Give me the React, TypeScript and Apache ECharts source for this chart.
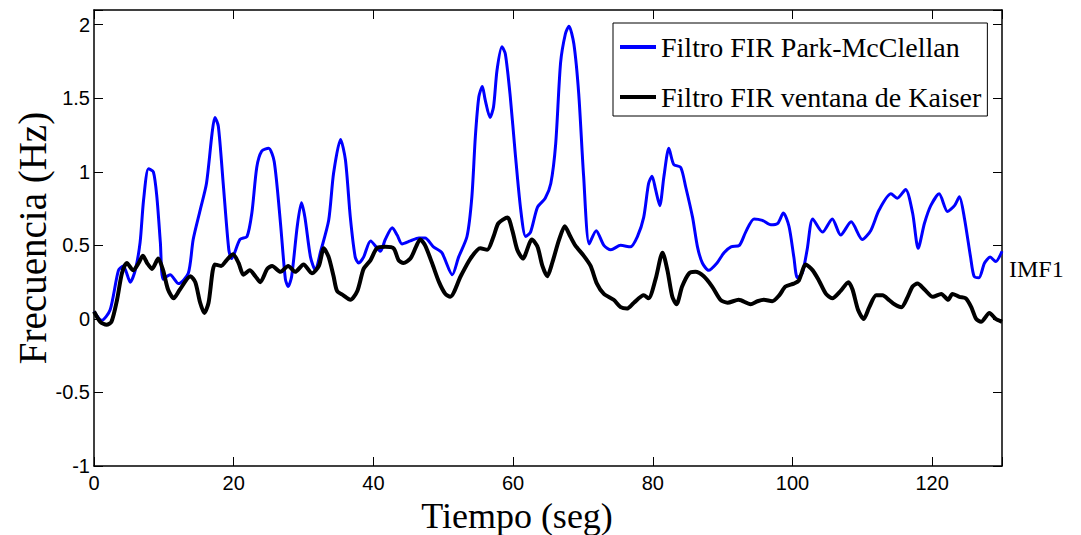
import React, { useEffect, useRef } from "react";
import * as echarts from "echarts";

const blueTime = [0, 1.1, 2.3, 3.5, 4.2, 5.2, 5.9, 6.6, 7.1, 7.8, 8.5, 9.0, 9.5, 9.9, 10.9, 12.1, 13.5, 14.2, 15.2, 16.1, 16.9, 17.3, 17.8, 18.5, 19.3, 19.7, 20.9, 21.9, 22.6, 23.3, 24.0, 25.0, 25.8, 26.7, 27.4, 27.8, 28.3, 29.1, 29.7, 30.2, 31.0, 31.7, 32.4, 33.6, 34.3, 35.3, 36.0, 36.7, 37.4, 37.9, 38.6, 39.6, 41.0, 41.7, 42.7, 43.4, 44.1, 45.3, 46.5, 47.4, 48.6, 49.8, 51.3, 52.2, 53.4, 54.1, 54.6, 55.1, 55.6, 56.0, 56.7, 57.2, 57.7, 58.4, 58.9, 59.6, 60.3, 61.1, 61.8, 62.5, 63.5, 64.6, 65.4, 66.1, 66.8, 67.5, 68.0, 68.7, 69.4, 70.1, 70.9, 71.9, 73.0, 74.0, 75.4, 76.8, 77.8, 78.7, 79.4, 79.9, 80.4, 81.0, 81.6, 82.3, 83.0, 84.0, 84.7, 85.7, 86.4, 87.1, 88.0, 89.2, 90.2, 91.2, 92.4, 93.3, 94.5, 95.7, 96.9, 97.9, 98.7, 99.5, 100.2, 100.7, 101.4, 102.1, 102.9, 104.3, 105.7, 106.9, 108.4, 110.0, 111.2, 112.4, 114.1, 115.0, 116.2, 117.2, 118.0, 118.9, 119.8, 121.0, 122.2, 123.2, 123.9, 124.6, 125.5, 126.0, 126.7, 127.5, 128.3, 129.1, 130];
const blueFreq = [0.05, -0.01, 0.06, 0.33, 0.36, 0.25, 0.33, 0.52, 0.81, 1.02, 1.0, 0.83, 0.52, 0.27, 0.30, 0.24, 0.31, 0.54, 0.74, 0.92, 1.26, 1.37, 1.31, 0.92, 0.47, 0.41, 0.54, 0.56, 0.72, 1.03, 1.14, 1.16, 1.07, 0.65, 0.27, 0.22, 0.29, 0.63, 0.79, 0.69, 0.42, 0.33, 0.45, 0.67, 0.99, 1.22, 1.08, 0.69, 0.42, 0.38, 0.42, 0.53, 0.46, 0.54, 0.62, 0.57, 0.51, 0.53, 0.55, 0.55, 0.49, 0.45, 0.30, 0.42, 0.56, 0.83, 1.24, 1.51, 1.58, 1.49, 1.37, 1.44, 1.69, 1.85, 1.80, 1.51, 1.13, 0.74, 0.56, 0.59, 0.76, 0.82, 0.92, 1.19, 1.74, 1.94, 1.99, 1.87, 1.53, 0.97, 0.51, 0.60, 0.50, 0.47, 0.50, 0.49, 0.56, 0.69, 0.92, 0.97, 0.88, 0.77, 0.97, 1.16, 1.05, 1.03, 0.90, 0.69, 0.49, 0.38, 0.33, 0.38, 0.45, 0.49, 0.50, 0.59, 0.68, 0.67, 0.64, 0.65, 0.72, 0.63, 0.42, 0.28, 0.31, 0.47, 0.68, 0.59, 0.68, 0.57, 0.66, 0.54, 0.60, 0.74, 0.85, 0.82, 0.88, 0.72, 0.48, 0.65, 0.77, 0.85, 0.73, 0.77, 0.83, 0.69, 0.42, 0.29, 0.28, 0.38, 0.42, 0.39, 0.46];

const blackTime = [0, 0.9, 1.8, 2.5, 3.3, 4.0, 4.7, 5.6, 6.4, 7.0, 7.6, 8.3, 9.2, 9.9, 10.6, 11.4, 12.3, 13.8, 14.5, 15.2, 15.8, 16.4, 17.3, 18.2, 19.0, 19.9, 20.7, 21.4, 22.3, 23.1, 23.8, 24.8, 25.5, 26.7, 27.8, 28.8, 30.0, 31.2, 32.2, 32.9, 33.6, 34.3, 34.8, 35.7, 36.7, 37.7, 38.6, 39.6, 40.5, 41.7, 42.9, 43.6, 44.3, 45.3, 46.1, 46.7, 47.4, 48.4, 49.4, 50.3, 51.0, 52.5, 53.9, 55.3, 56.3, 57.2, 57.9, 59.2, 59.9, 60.6, 61.4, 62.7, 63.5, 64.2, 64.9, 65.6, 66.6, 67.4, 68.2, 68.9, 70.1, 71.1, 72.0, 73.0, 74.4, 75.4, 76.3, 77.3, 78.7, 79.4, 80.4, 81.4, 82.1, 82.8, 83.4, 84.2, 85.2, 86.1, 87.3, 88.5, 89.7, 90.7, 92.3, 94.0, 95.0, 95.9, 97.1, 98.1, 99.0, 100.2, 100.9, 101.9, 102.9, 103.8, 104.8, 105.7, 106.9, 108.0, 108.6, 109.4, 110.2, 111.0, 112.0, 112.9, 113.8, 114.6, 115.6, 116.5, 117.2, 117.9, 118.9, 120.1, 121.3, 122.3, 122.9, 123.9, 124.8, 125.6, 126.3, 127.0, 128.2, 129.1, 130];
const blackFreq = [0.05, -0.02, -0.04, -0.02, 0.13, 0.31, 0.38, 0.33, 0.38, 0.43, 0.38, 0.34, 0.41, 0.33, 0.20, 0.14, 0.20, 0.29, 0.25, 0.11, 0.04, 0.11, 0.37, 0.36, 0.40, 0.44, 0.38, 0.30, 0.33, 0.29, 0.25, 0.34, 0.36, 0.32, 0.36, 0.32, 0.37, 0.31, 0.36, 0.48, 0.42, 0.29, 0.19, 0.16, 0.13, 0.19, 0.34, 0.40, 0.48, 0.49, 0.48, 0.40, 0.38, 0.41, 0.49, 0.54, 0.50, 0.38, 0.25, 0.17, 0.15, 0.29, 0.41, 0.48, 0.47, 0.56, 0.65, 0.69, 0.60, 0.47, 0.41, 0.54, 0.49, 0.36, 0.29, 0.38, 0.54, 0.63, 0.56, 0.50, 0.43, 0.36, 0.24, 0.17, 0.13, 0.08, 0.07, 0.11, 0.16, 0.14, 0.27, 0.45, 0.33, 0.15, 0.10, 0.22, 0.31, 0.32, 0.29, 0.22, 0.13, 0.11, 0.13, 0.10, 0.12, 0.13, 0.12, 0.16, 0.22, 0.24, 0.26, 0.37, 0.33, 0.26, 0.17, 0.14, 0.19, 0.25, 0.20, 0.06, 0.00, 0.08, 0.16, 0.16, 0.13, 0.10, 0.08, 0.15, 0.22, 0.24, 0.20, 0.15, 0.17, 0.13, 0.17, 0.15, 0.14, 0.08, 0.00, -0.02, 0.04, 0.00, -0.02];

const seriesNames = ["Filtro FIR Park-McClellan", "Filtro FIR ventana de Kaiser"];
const xTitle = "Tiempo (seg)";
const yTitle = "Frecuencia (Hz)";
const sideLabel = "IMF1";

function pairs(t: number[], v: number[]) {
  return t.map((x, i) => [x, v[i]]);
}

export default function App() {
  const ref = useRef<HTMLDivElement>(null);
  useEffect(() => {
    if (!ref.current) return;
    const chart = echarts.init(ref.current, undefined, { renderer: "svg" });
    const sans = "'Liberation Sans', Arial, sans-serif";
    const serif = "'Liberation Serif', 'Times New Roman', serif";
    const tickLabel = {
      fontFamily: sans,
      fontSize: 20,
      color: "#000",
    };
    const yFmt = (v: number) => (Math.abs(v * 2 - Math.round(v * 2)) < 1e-6 ? String(v) : "");
    const xFmt = (v: number) => (v % 20 === 0 ? String(v) : "");
    chart.setOption({
      animation: false,
      backgroundColor: "#fff",
      grid: { left: 94, right: 79, top: 10, bottom: 69, containLabel: false, outerBoundsMode: "none" },
      legend: {
        left: 613,
        top: 23,
        orient: "vertical",
        backgroundColor: "#fff",
        borderColor: "#000",
        borderWidth: 1,
        borderRadius: 0,
        padding: [5, 6, 0, 7],
        itemGap: 12,
        itemWidth: 36,
        itemHeight: 4,
        icon: "rect",
        textStyle: { fontFamily: serif, fontSize: 28, color: "#000", lineHeight: 38 },
        data: seriesNames,
      },
      xAxis: [
        {
          type: "value",
          min: 0,
          max: 130,
          interval: 20,
          name: xTitle,
          nameLocation: "middle",
          nameGap: 35,
          nameMoveOverlap: false,
          nameTextStyle: { fontFamily: serif, fontSize: 36, lineHeight: 30, color: "#000", padding: [0, 62, 0, 0] },
          axisLine: { show: true, onZero: false, lineStyle: { color: "#000", width: 1.5 } },
          axisTick: { show: true, inside: true, length: 9, lineStyle: { color: "#000" } },
          axisLabel: { ...tickLabel, margin: 7, formatter: xFmt },
          splitLine: { show: false },
        },
        {
          type: "value",
          position: "top",
          min: 0,
          max: 130,
          interval: 20,
          axisLine: { show: true, onZero: false, lineStyle: { color: "#000", width: 1.5 } },
          axisTick: { show: true, inside: true, length: 9, lineStyle: { color: "#000" } },
          axisLabel: { show: false },
          splitLine: { show: false },
        },
      ],
      yAxis: [
        {
          type: "value",
          min: -1,
          max: 2.1,
          interval: 0.5,
          name: yTitle,
          nameLocation: "middle",
          nameGap: 42,
          nameMoveOverlap: false,
          nameTextStyle: { fontFamily: serif, fontSize: 39, color: "#000" },
          axisLine: { show: true, onZero: false, lineStyle: { color: "#000", width: 1.5 } },
          axisTick: { show: true, inside: true, length: 9, lineStyle: { color: "#000" } },
          axisLabel: { ...tickLabel, margin: 4, formatter: yFmt },
          splitLine: { show: false },
        },
        {
          type: "value",
          position: "right",
          min: -1,
          max: 2.1,
          interval: 0.5,
          axisLine: { show: true, onZero: false, lineStyle: { color: "#000", width: 1.5 } },
          axisTick: { show: true, inside: true, length: 9, lineStyle: { color: "#000" } },
          axisLabel: { show: false },
          splitLine: { show: false },
        },
      ],
      graphic: [
        {
          type: "text",
          left: 1009,
          top: 257,
          style: { text: sideLabel, fontFamily: serif, fontSize: 24, fill: "#000" },
        },
      ],
      series: [
        {
          name: seriesNames[0],
          type: "line",
          data: pairs(blueTime, blueFreq),
          showSymbol: false,
          smooth: 0.25,
          lineStyle: { color: "#0000ff", width: 3 },
          itemStyle: { color: "#0000ff" },
          z: 2,
        },
        {
          name: seriesNames[1],
          type: "line",
          data: pairs(blackTime, blackFreq),
          showSymbol: false,
          smooth: 0.25,
          lineStyle: { color: "#000", width: 4 },
          itemStyle: { color: "#000" },
          z: 3,
        },
      ],
    });
    return () => chart.dispose();
  }, []);
  return (
    <div
      ref={ref}
      style={{ position: "fixed", left: 0, top: 0, width: 1081, height: 535, background: "#fff" }}
    />
  );
}
